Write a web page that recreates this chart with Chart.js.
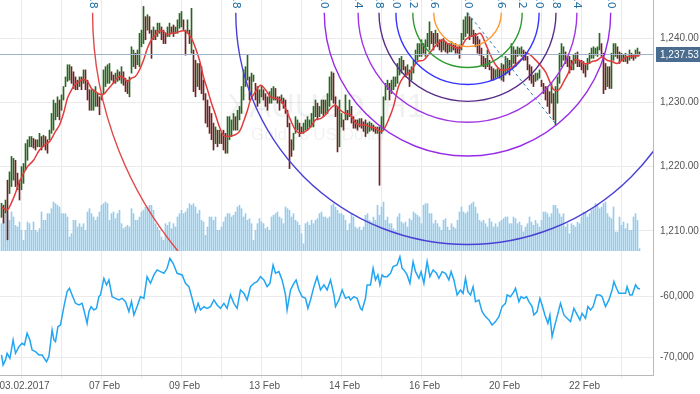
<!DOCTYPE html>
<html>
<head>
<meta charset="utf-8">
<script src="https://cdn.jsdelivr.net/npm/chart.js@4.4.1/dist/chart.umd.min.js"></script>
<style>
  html, body { margin: 0; padding: 0; background: #fff; }
  #wrap { position: relative; width: 700px; height: 394px; overflow: hidden; }
  #top { position: absolute; left: 0; top: 0; }
  #bot { position: absolute; left: 0; top: 251px; }
</style>
</head>
<body>
<div id="wrap">
  <canvas id="top" width="700" height="251"></canvas>
  <canvas id="bot" width="700" height="143"></canvas>
</div>
<script>
// XAUUSD H1 - one value per bar (bar index 0..319)
const hi = [
  1214.3,1214.0,1214.8,1217.9,1219.2,1221.6,1221.3,1221.0,1219.0,1217.9,
  1220.0,1220.5,1223.6,1224.2,1224.7,1224.7,1224.4,1224.2,1224.2,1225.2,
  1224.7,1224.9,1224.7,1224.2,1225.7,1228.3,1230.4,1229.9,1230.9,1230.4,
  1231.2,1232.5,1234.0,1235.9,1235.9,1235.6,1234.8,1234.0,1233.5,1234.0,
  1234.0,1235.1,1235.1,1233.5,1232.0,1232.0,1232.0,1232.5,1231.4,1230.9,
  1231.4,1235.1,1235.6,1235.9,1236.1,1234.8,1234.3,1234.6,1235.1,1234.8,
  1235.6,1234.8,1233.8,1233.5,1234.0,1238.7,1238.2,1237.7,1238.2,1240.8,
  1241.3,1245.0,1243.4,1243.7,1243.4,1241.3,1241.8,1241.3,1242.4,1242.4,
  1241.8,1241.3,1240.8,1241.8,1242.4,1241.8,1242.1,1241.8,1242.9,1243.9,
  1244.2,1242.9,1241.3,1242.9,1241.3,1244.7,1238.2,1236.6,1236.1,1236.1,
  1235.6,1233.5,1231.4,1230.4,1229.4,1228.3,1226.8,1226.2,1225.7,1225.7,
  1225.2,1225.7,1225.2,1227.8,1227.8,1227.3,1228.3,1227.8,1228.8,1229.4,
  1232.5,1235.1,1235.6,1237.4,1234.0,1234.6,1234.3,1233.0,1232.5,1232.0,
  1232.7,1232.0,1231.4,1230.9,1231.7,1232.2,1232.5,1232.2,1230.9,1230.9,
  1231.2,1230.7,1230.4,1228.8,1226.8,1224.2,1225.2,1227.8,1227.3,1226.8,
  1226.2,1226.8,1227.3,1227.8,1227.3,1228.3,1229.4,1230.4,1229.9,1229.4,
  1230.4,1230.4,1230.4,1231.4,1234.0,1234.8,1234.6,1230.9,1229.4,1230.4,
  1228.3,1227.3,1231.2,1228.8,1230.4,1229.4,1227.8,1227.3,1227.3,1227.5,
  1227.5,1227.0,1227.3,1226.8,1227.0,1226.8,1226.5,1226.2,1226.2,1226.2,
  1227.8,1230.9,1233.0,1233.5,1233.0,1233.5,1234.0,1234.0,1236.1,1236.9,
  1237.2,1236.6,1235.6,1235.9,1235.1,1235.6,1236.6,1238.2,1239.2,1239.2,
  1239.8,1239.2,1239.8,1240.8,1242.6,1241.1,1240.8,1241.3,1240.8,1239.8,
  1239.8,1240.0,1239.5,1239.2,1239.2,1239.5,1239.0,1239.2,1238.7,1239.0,
  1240.8,1242.9,1243.4,1244.0,1243.4,1243.1,1241.3,1240.8,1240.3,1239.8,
  1238.5,1237.2,1236.9,1238.2,1236.6,1235.6,1235.3,1235.1,1235.3,1235.1,
  1236.1,1235.9,1237.2,1236.9,1236.6,1239.2,1238.7,1238.2,1238.7,1238.5,
  1238.7,1238.2,1237.9,1237.2,1235.9,1235.6,1234.3,1234.6,1234.6,1235.1,
  1233.5,1233.0,1232.5,1232.5,1231.7,1233.0,1231.4,1232.5,1234.0,1237.7,
  1239.2,1238.7,1237.9,1237.2,1237.2,1236.6,1237.4,1237.7,1237.9,1236.6,
  1236.6,1236.4,1235.9,1236.9,1237.7,1238.5,1238.7,1238.5,1238.7,1240.8,
  1239.2,1237.7,1236.1,1235.6,1235.6,1237.7,1239.2,1239.2,1238.7,1237.9,
  1237.7,1237.4,1237.7,1237.2,1238.2,1237.7,1237.4,1238.2,1238.5,1237.9
];
const lo = [
  1212.1,1211.2,1212.8,1208.6,1215.8,1216.9,1217.9,1216.9,1216.4,1214.8,
  1216.4,1217.4,1219.5,1221.0,1223.1,1223.1,1222.9,1222.6,1223.1,1223.1,
  1222.6,1223.1,1222.6,1222.1,1224.2,1225.2,1225.7,1227.3,1227.8,1227.3,
  1228.8,1230.4,1232.5,1233.3,1233.5,1233.0,1232.2,1232.0,1232.0,1232.5,
  1232.0,1233.0,1232.0,1230.4,1228.8,1228.8,1228.8,1229.4,1229.4,1228.1,
  1230.4,1231.4,1232.5,1233.0,1233.0,1233.5,1233.0,1233.0,1233.3,1233.5,
  1233.0,1232.7,1231.7,1231.4,1230.9,1234.6,1235.6,1235.3,1235.9,1235.6,
  1238.7,1239.2,1239.8,1241.3,1240.8,1236.9,1239.8,1239.8,1240.3,1240.8,
  1239.8,1239.2,1239.2,1240.3,1240.3,1240.8,1240.3,1240.8,1240.8,1241.6,
  1241.8,1241.3,1237.4,1240.8,1239.2,1237.7,1231.7,1230.9,1232.5,1232.0,
  1231.4,1230.4,1226.8,1226.2,1225.2,1224.2,1222.6,1223.6,1223.1,1223.6,
  1223.6,1222.6,1222.1,1222.1,1224.2,1224.7,1225.7,1225.7,1225.7,1227.3,
  1228.3,1230.4,1232.5,1233.5,1230.4,1231.2,1233.3,1230.4,1229.4,1229.9,
  1230.9,1230.4,1229.4,1228.8,1229.9,1229.9,1230.4,1230.4,1229.9,1228.8,
  1229.9,1229.1,1228.3,1226.2,1219.7,1221.6,1222.6,1225.2,1225.7,1224.7,
  1225.2,1225.2,1225.7,1225.7,1226.2,1226.2,1226.2,1227.8,1227.3,1227.8,
  1228.3,1227.8,1228.3,1228.3,1229.4,1230.4,1229.9,1227.8,1222.3,1223.1,
  1226.2,1225.7,1227.3,1227.3,1227.8,1226.8,1226.0,1226.0,1225.7,1226.2,
  1226.0,1225.5,1224.7,1225.2,1225.5,1225.7,1225.5,1225.2,1225.2,1217.1,
  1225.2,1225.7,1230.4,1232.0,1230.4,1231.4,1232.0,1232.5,1233.0,1234.3,
  1234.6,1235.1,1234.0,1234.3,1232.5,1233.5,1234.6,1236.1,1236.6,1237.2,
  1237.2,1237.7,1237.2,1238.7,1238.2,1239.2,1238.2,1239.2,1238.7,1238.2,
  1237.9,1238.2,1237.9,1237.7,1237.9,1237.9,1238.2,1237.7,1237.7,1236.9,
  1238.2,1239.8,1240.3,1240.8,1239.8,1240.3,1239.2,1238.7,1237.7,1237.4,
  1235.9,1235.6,1235.3,1235.6,1235.1,1233.5,1233.5,1233.8,1234.0,1233.8,
  1233.5,1233.3,1234.3,1234.6,1234.3,1235.6,1236.1,1235.6,1237.2,1237.4,
  1237.2,1236.6,1236.6,1235.1,1233.5,1233.0,1232.5,1233.3,1233.5,1233.8,
  1232.5,1231.4,1230.4,1229.4,1228.3,1229.9,1227.3,1226.5,1229.9,1233.0,
  1235.6,1236.6,1236.1,1235.6,1234.6,1235.1,1235.1,1236.1,1235.6,1235.6,
  1235.1,1234.6,1234.0,1235.1,1236.1,1236.9,1236.9,1237.4,1237.2,1238.2,
  1237.2,1231.4,1232.0,1232.5,1232.2,1232.2,1236.6,1237.2,1236.9,1236.1,
  1236.6,1236.4,1236.4,1236.1,1236.6,1236.9,1236.6,1236.9,1237.2,1237.4
];
// tick volume
const vol = [
  2460,2760,3510,3360,2760,3510,3060,2310,2160,2610,1860,960,1860,2610,2460,1860,2610,1860,1710,2010,
  3510,2760,2760,3360,3360,3810,4410,4260,4110,3960,3360,3360,3360,3060,1260,1560,2760,2760,2160,2460,
  2160,2460,1860,3510,3810,3360,3060,2760,3060,3510,4110,4260,4410,4260,2760,3360,3510,2910,3360,3660,
  2460,2010,2160,2310,2160,3810,3360,2760,2760,3060,3510,3660,3960,3960,4110,4110,3660,2460,2160,1860,
  1260,960,2460,2310,2610,2010,2460,2160,3060,3360,3660,3360,3510,3810,4260,4110,4260,3960,3360,3660,
  2760,2610,1410,2160,3060,3060,2760,3060,1860,1860,2160,2610,3060,3360,3360,3060,3210,3510,3960,4110,
  3810,3060,3360,2760,2910,2460,960,1860,2460,2910,2610,2460,2010,2160,1860,3060,3210,3360,3510,3060,
  2910,2460,3960,3810,3660,3060,3360,2760,2610,2310,1560,660,2460,2610,2310,2760,2460,2760,2910,3360,
  3510,3060,3060,2910,3060,4110,4260,3960,3660,3360,3360,3210,2760,1860,2460,
  3360,3060,2160,2010,2160,1860,2160,3210,3360,2760,2610,3060,2760,4110,3210,3960,4410,2760,3060,2460,
  2460,2010,1860,3060,3360,2610,2460,2610,2160,2910,2760,3510,3360,3210,3060,2460,4110,4260,4260,3360,
  3360,2460,2760,2460,2160,1860,2760,2910,2160,1860,2460,2160,2010,2760,3510,3960,3510,3360,3510,4110,
  4260,4410,3960,3360,2760,2610,2760,2460,2160,2910,2610,2160,2460,2160,2610,2760,2910,3060,3060,2460,
  2460,3060,2910,2460,2610,2310,1710,2160,2460,3060,2610,2310,2760,2460,2160,2760,3510,3510,3360,3060,
  3360,4110,4110,3810,3360,3060,3360,2160,2460,1560,2460,2310,2160,2610,2460,3060,3510,3510,3060,3360,
  3660,3810,4260,4110,3810,3960,4260,4410,3360,3060,2910,3960,1710,1710,3060,2310,2610,2010,2460,1860,
  1860,3060,3360,2760,210
];
// moving average (red line)
const maX = [0,3,5,7,9,13,16,19,22,24,27,29,31,33,35,37,39,41,43,45,47,49,51,53,55,57,59,61,63,65,
  67,69,71,73,75,77,79,81,83,85,87,89,91,93,95,97,99,101,103,105,107,109,111,113,115,117,119,121,123,
  124.5,127,129.5,132,134.5,137,139.5,142,144.5,147,149.5,152,154.5,157,159.5,162,164.5,167,169.5,172,
  174.5,177,179.5,182,184.5,187,189.5,191,193.5,196,198.5,201,204.5,208,211,214.5,218,220.5,223,226,
  229.5,232,234.5,237,239.5,242,244.5,247,249.5,251.2,254.5,257,260.3,262.8,266.2,268.7,272,274.5,
  276.2,278.7,281.2,283.7,286.2,288.7,291.2,293.7,295.3,297.8,300.3,302.8,305.3,307.8,310.3,312.8,
  315.3,317.8,319];
const maY = [1213.7,1213.3,1214.4,1215.9,1217.7,1220.0,1221.0,1222.6,1223.5,1223.9,1225.5,1226.5,
  1228.3,1230.7,1232.0,1232.9,1233.3,1233.6,1233.3,1232.2,1231.7,1231.3,1231.3,1232.0,1232.7,1233.5,
  1234.1,1233.9,1233.3,1233.8,1234.1,1235.1,1236.6,1238.5,1239.8,1240.5,1241.2,1241.1,1240.6,1240.8,
  1240.9,1241.1,1241.2,1240.9,1240.0,1238.5,1236.6,1234.0,1232.0,1229.9,1228.1,1226.2,1224.9,1224.7,
  1224.8,1225.0,1225.5,1227.0,1228.8,
  1230.4,1231.7,1232.7,1232.0,1230.9,1230.7,1230.4,1229.1,1227.3,1225.7,1225.2,1225.5,1226.2,1227.3,
  1227.5,1228.1,1229.1,1229.6,1228.8,1228.3,1228.1,1226.8,1226.5,1226.5,1226.2,1226.0,1225.5,1225.7,
  1227.3,1229.4,1232.5,1234.0,1234.8,1236.4,1236.6,1237.9,1239.2,1239.8,1239.2,1238.7,1238.5,1239.8,
  1240.3,1240.5,1240.8,1239.2,1237.4,1235.9,1235.1,
  1235.1,1235.3,1235.9,1236.9,1237.7,1236.9,1236.1,1234.8,1233.0,1232.0,1232.0,1233.3,1234.8,1236.6,
  1236.6,1236.1,1236.1,1236.4,1236.6,1237.1,1236.6,1236.4,1236.1,1236.6,1237.2,1237.2,1237.3,1237.3];
// lower indicator (blue line)
const indX = [0,0.8,2,2.8,4.2,5.8,7,8.7,10.3,11.5,12.8,14.2,15.3,17,18.7,20.3,22.5,23.7,25.3,26.2,
  27,28.2,29.5,31.2,32.8,34,35.3,37,38.7,40.3,41.2,42.8,43.7,44.8,46.2,47.5,48.7,49.5,51.2,52.5,
  53.7,55.3,57,58.7,60.3,62,63.7,65,66.2,67.8,69.5,71.2,72.8,74.5,76.2,77.8,79.5,81.2,82.8,84.2,
  85.8,87.8,90.3,92,93.7,95.3,97,98.3,99.5,101.2,102.8,104.5,106.2,107.8,109.5,111.2,112.8,114.5,
  116.2,117.8,119.5,121.2,122.8,124.5,126.2,127.8,129.5,131.2,132.8,134.2,135.8,137,138.7,140.3,
  142,142.8,144.5,146.2,147.3,148.7,150.3,152,153.2,154.5,156.2,157.8,159.5,161.2,162.8,164.5,
  166.2,167,168.7,170.3,172,173.7,
  174.5,176.2,177.8,179.5,180.3,182,182.8,184.5,185.8,187,188.2,189.2,190.3,191.2,192.8,194.5,
  195.8,197.8,199.2,200.3,201.2,202.8,204.2,205.8,207,208.7,209.8,211.2,212.8,214.2,215.8,217.5,
  218.7,220.3,222,223.7,224.8,226.2,227.8,229.5,230.8,232,233.2,234.5,235.8,237,238.7,240.3,242,
  243.7,245.3,247,248.7,250.3,252,252.8,254.5,256.2,257,258.7,259.8,261.2,262.5,263.7,265.3,266.2,
  267.8,269.2,270.3,271.7,273.2,274.2,275.3,276.5,277.8,279.5,281.2,282.8,284.5,286.2,287.5,289.2,
  290.3,292,293.2,294.5,295.8,297.5,299.2,300.3,302,303.7,305.3,306.2,307.5,308.7,310.3,312,312.8,
  314.2,315.3,317,318.2,319.2];
const indY = [-69600,-71250,-70430,-69340,-70160,-67160,-69340,-68250,-67700,-67980,-66060,-67160,
  -68800,-69070,-69620,-69620,-70710,-69890,-65520,-67160,-67430,-64970,-64700,-61690,-59240,-58690,
  -59780,-61150,-61420,-61150,-62240,-64430,-62510,-61690,-62240,-61970,-60060,-59780,-57050,-58140,
  -57320,-60060,-60330,-60600,-60330,-60870,-62510,-60870,-63060,-61690,-60060,-60330,-56780,-57870,
  -56500,-55680,-55960,-56230,-55410,-53770,-54590,-56230,-56500,-57870,-58420,-60330,-62510,-61150,
  -62240,-61690,-61970,-61690,-60600,-61420,-61970,-61150,-61970,-59780,-61150,-61970,-58960,-59510,
  -60600,-58420,-57870,-57600,-56780,-57320,-58420,-57870,-54870,-56230,-55960,-57320,-59780,-62240,
  -58960,-57870,-57320,-58960,-60060,-60330,-61970,-60600,-58420,-56780,-58960,-58140,-58960,-57320,
  -59780,-61690,-60600,-58960,-60330,-60060,
  -60600,-60060,-60330,-61970,-62240,-60330,-58140,-58140,-55410,-57320,-56500,-58140,-56500,-56780,
  -56780,-56230,-55140,-54870,-53500,-55410,-55680,-56500,-57870,-54320,-55960,-57050,-55960,-57870,
  -54320,-56780,-55680,-56230,-57050,-55960,-56230,-57320,-55960,-57320,-59780,-58960,-59510,-57050,
  -59240,-59780,-58420,-60870,-60600,-62510,-63330,-63880,-64700,-64150,-63330,-61690,-61150,-59780,
  -60060,-59240,-58690,-60870,-60060,-60330,-60060,-60870,-61690,-63060,-62510,-60330,-61420,-63060,
  -64430,-63060,-66610,-64970,-63330,-61150,-63060,-63610,-64150,-61970,-62790,-63880,-62790,-63610,
  -61690,-62240,-61690,-59780,-59780,-60060,-61690,-60600,-58960,-57600,-58690,-59510,-59510,-59510,
  -58420,-59780,-59780,-58140,-58690,-58800];
const indTicks = [-70000, -60000];

const lastPrice = 1237.53;
// fibonacci arcs: anchor points (bar index, price) and levels
const fibFrom = { x: 233, y: 1244.0 };
const fibTo = { x: 277.5, y: 1226.5 };
const fibLevels = [0.236, 0.382, 0.5, 0.618, 0.764, 1, 1.618, 2.618];
const fibColors = ['#ff9a33', '#2f9a2f', '#3535ff', '#5a2d8c', '#a136e2', '#982ce6', '#4a40d6', '#e04a4a'];

const dateTicks = ['03.02.2017', '07 Feb', '09 Feb', '13 Feb', '14 Feb', '16 Feb', '20 Feb', '22 Feb'];
const dateTickIdx = [10, 50, 90, 130, 170, 210, 250, 290];

const gridIdx = [];
for (let i = 10; i < 320; i += 20) gridIdx.push(i);

const axisFont = { family: 'Liberation Sans', size: 10 };
const gridCol = '#ebebeb';
const borderCol = '#b9b9b9';

const fitWidth = s => { s.width = 47; s.paddingTop = 0; s.paddingBottom = 0; };

function xScale(extra) {
  return Object.assign({
    type: 'linear', min: -0.75, max: 325.75, offset: false,
    afterBuildTicks: s => { s.ticks = gridIdx.map(v => ({ value: v })); },
    grid: { color: gridCol, drawTicks: false, offset: false },
    border: { color: borderCol }
  }, extra);
}

// watermark, price line, fibonacci arcs
const topDecor = {
  id: 'topDecor',
  beforeDatasetsDraw(chart) {
    const c = chart.ctx;
    c.save();
    c.fillStyle = 'rgba(0,0,0,0.055)';
    c.font = '33px "Liberation Sans"';
    c.fillText('XAUUSD, H1', 227, 117);
    c.font = '17px "Liberation Sans"';
    c.fillText('Gold vs US Dollar', 251, 140);
    c.restore();
  },
  afterDatasetsDraw(chart) {
    const c = chart.ctx, a = chart.chartArea;
    const xs = chart.scales.x, ys = chart.scales.y;
    c.save();
    c.beginPath();
    c.rect(a.left, a.top, a.right - a.left, a.bottom - a.top);
    c.clip();
    // current price line
    const py = Math.round(ys.getPixelForValue(lastPrice)) + 0.5;
    c.strokeStyle = '#9fb4ca';
    c.lineWidth = 1;
    c.beginPath(); c.moveTo(a.left, py); c.lineTo(a.right, py); c.stroke();

    const x1 = xs.getPixelForValue(fibFrom.x), y1 = ys.getPixelForValue(fibFrom.y);
    const x2 = xs.getPixelForValue(fibTo.x), y2 = ys.getPixelForValue(fibTo.y);
    const d = Math.hypot(x2 - x1, y2 - y1);
    c.setLineDash([3, 3]);
    c.strokeStyle = '#2f7db5';
    c.beginPath(); c.moveTo(x1, y1); c.lineTo(x2, y2); c.stroke();
    c.setLineDash([]);
    c.lineWidth = 1.4;
    fibLevels.forEach((lv, k) => {
      c.strokeStyle = fibColors[k];
      c.beginPath();
      c.arc(x1, y1, d * lv, 0, Math.PI);
      c.stroke();
    });
    // level labels, rotated, cut by the top edge
    c.fillStyle = '#1f6da3';
    c.font = '11px "DejaVu Sans"';
    c.textAlign = 'right';
    c.textBaseline = 'middle';
    const putLabel = (x, txt) => {
      c.save();
      c.translate(x, y1 - 4);
      c.rotate(Math.PI / 2);
      c.fillText(txt, 0, 0);
      c.restore();
    };
    putLabel(x1, '0.0');
    fibLevels.forEach(lv => {
      const txt = (lv * 100).toFixed(1);
      putLabel(x1 - d * lv, txt);
      putLabel(x1 + d * lv, txt);
    });
    c.restore();
  },
  afterDraw(chart) {
    const c = chart.ctx, ys = chart.scales.y;
    const py = Math.round(ys.getPixelForValue(lastPrice));
    c.save();
    c.fillStyle = '#4a6d8f';
    c.fillRect(656, py - 7, 44, 15);
    c.fillStyle = '#fff';
    c.font = '10px "Liberation Sans"';
    c.textBaseline = 'middle';
    c.fillText(lastPrice.toLocaleString('en-US', { minimumFractionDigits: 2 }), 660, py + 1);
    c.restore();
  }
};

const barColors = hi.map((h, i) => {
  const mid = (h + lo[i]) / 2;
  const prev = i > 0 ? (hi[i - 1] + lo[i - 1]) / 2 : mid;
  return mid >= prev ? '#2b6423' : '#6d2323';
});

new Chart(document.getElementById('top'), {
  type: 'bar',
  data: {
    datasets: [
      {
        data: vol.map((v, i) => ({ x: i, y: v })),
        yAxisID: 'yv',
        backgroundColor: '#96cbed',
        barThickness: 1,
        grouped: false,
        order: 3
      },
      {
        data: hi.map((h, i) => ({ x: i, y: [lo[i], h] })),
        yAxisID: 'y',
        backgroundColor: barColors,
        barThickness: 1,
        grouped: false,
        order: 2
      },
      {
        type: 'line',
        data: maX.map((x, i) => ({ x: x, y: maY[i] })),
        yAxisID: 'y',
        borderColor: '#e23c3c',
        borderWidth: 1.5,
        pointRadius: 0,
        tension: 0.35,
        order: 1
      }
    ]
  },
  options: {
    responsive: false,
    animation: false,
    devicePixelRatio: 1,
    layout: { padding: 0 },
    plugins: { legend: { display: false }, tooltip: { enabled: false } },
    scales: {
      x: xScale({
        ticks: { display: false },
        afterFit: s => { s.height = 0; s.paddingLeft = 0; s.paddingRight = 0; }
      }),
      y: {
        position: 'right',
        min: 1206.85, max: 1246,
        ticks: {
          stepSize: 10, includeBounds: false, padding: 7,
          color: '#555', font: axisFont,
          callback: v => v.toLocaleString('en-US', { minimumFractionDigits: 2 })
        },
        grid: { color: gridCol, drawTicks: false },
        border: { color: borderCol },
        afterFit: fitWidth
      },
      yv: { display: false, min: 0, max: 22590 }
    }
  },
  plugins: [topDecor]
});

new Chart(document.getElementById('bot'), {
  type: 'line',
  data: {
    datasets: [{
      data: indX.map((x, i) => ({ x: x, y: indY[i] })),
      borderColor: '#22a6f2',
      borderWidth: 1.5,
      pointRadius: 0,
      tension: 0
    }]
  },
  options: {
    responsive: false,
    animation: false,
    devicePixelRatio: 1,
    layout: { padding: 0 },
    plugins: { legend: { display: false }, tooltip: { enabled: false } },
    scales: {
      x: xScale({
        grid: { color: gridCol, drawTicks: true, tickLength: 4 },
        ticks: {
          autoSkip: false, maxRotation: 0, padding: 1, labelOffset: 3,
          color: '#555', font: axisFont,
          callback: v => { const k = dateTickIdx.indexOf(v); return k >= 0 ? dateTicks[k] : ''; }
        },
        afterFit: s => { s.height = 19; s.paddingLeft = 0; s.paddingRight = 0; }
      }),
      y: {
        position: 'right',
        min: -72900, max: -52575,
        afterBuildTicks: s => { s.ticks = indTicks.map(v => ({ value: v })); },
        ticks: {
          padding: 7, color: '#555', font: axisFont,
          callback: v => v.toLocaleString('en-US')
        },
        grid: { color: gridCol, drawTicks: false },
        border: { color: borderCol },
        afterFit: fitWidth
      }
    }
  }
});
</script>
</body>
</html>
